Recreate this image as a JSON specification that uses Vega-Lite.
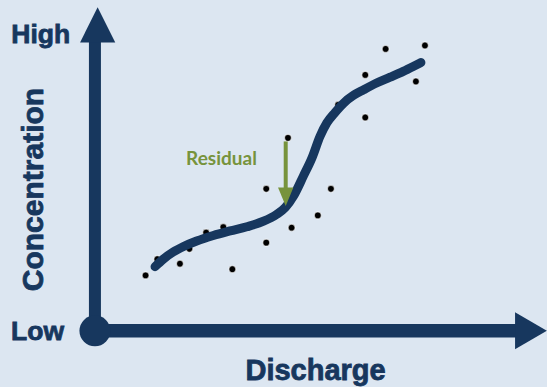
{
  "$schema": "https://vega.github.io/schema/vega-lite/v6.json",
  "width": 547,
  "height": 387,
  "autosize": {"type": "fit", "contains": "padding"},
  "padding": 0,
  "background": "#dce6f1",
  "config": {"view": {"stroke": null}},
  "datasets": {
    "fit": [
      {"x": 1.33, "y": 1.98}, {"x": 1.51, "y": 2.21}, {"x": 1.73, "y": 2.43}, {"x": 1.96, "y": 2.6},
      {"x": 2.25, "y": 2.77}, {"x": 2.62, "y": 2.94}, {"x": 2.99, "y": 3.08}, {"x": 3.36, "y": 3.21},
      {"x": 3.73, "y": 3.38}, {"x": 4.02, "y": 3.59}, {"x": 4.21, "y": 3.8}, {"x": 4.39, "y": 4.15},
      {"x": 4.61, "y": 4.77}, {"x": 4.8, "y": 5.33}, {"x": 4.98, "y": 6.0}, {"x": 5.13, "y": 6.41},
      {"x": 5.31, "y": 6.73}, {"x": 5.5, "y": 7.02}, {"x": 5.72, "y": 7.26}, {"x": 5.94, "y": 7.43},
      {"x": 6.23, "y": 7.64}, {"x": 6.53, "y": 7.82}, {"x": 6.82, "y": 8.0}, {"x": 7.04, "y": 8.15},
      {"x": 7.21, "y": 8.27}
    ],
    "obs": [
      {"x": 1.12, "y": 1.71}, {"x": 1.38, "y": 2.21}, {"x": 1.88, "y": 2.07}, {"x": 2.09, "y": 2.53},
      {"x": 2.46, "y": 3.03}, {"x": 2.84, "y": 3.2}, {"x": 3.04, "y": 1.9}, {"x": 3.79, "y": 2.72},
      {"x": 3.79, "y": 4.38}, {"x": 4.27, "y": 5.95}, {"x": 4.35, "y": 3.18}, {"x": 4.93, "y": 3.56},
      {"x": 5.22, "y": 4.38}, {"x": 5.38, "y": 6.97}, {"x": 5.98, "y": 6.58}, {"x": 5.98, "y": 7.89},
      {"x": 6.43, "y": 8.69}, {"x": 7.1, "y": 7.69}, {"x": 7.3, "y": 8.8}
    ]
  },
  "layer": [
    {
      "data": {"values": [{"x": 0, "y": 0, "x2": 0, "y2": 9.0}]},
      "mark": {"type": "rule", "color": "#17375e", "strokeWidth": 12},
      "encoding": {
        "x": {"field": "x", "type": "quantitative", "scale": {"domain": [-2.1, 10], "nice": false, "zero": false}, "axis": null},
        "y": {"field": "y", "type": "quantitative", "scale": {"domain": [-1.7, 10.2], "nice": false, "zero": false}, "axis": null},
        "x2": {"field": "x2"},
        "y2": {"field": "y2"}
      }
    },
    {
      "data": {"values": [{"x": 0, "y": 0, "x2": 9.35, "y2": 0}]},
      "mark": {"type": "rule", "color": "#17375e", "strokeWidth": 13.5},
      "encoding": {
        "x": {"field": "x", "type": "quantitative", "scale": {"domain": [-2.1, 10], "nice": false, "zero": false}, "axis": null},
        "y": {"field": "y", "type": "quantitative", "scale": {"domain": [-1.7, 10.2], "nice": false, "zero": false}, "axis": null},
        "x2": {"field": "x2"},
        "y2": {"field": "y2"}
      }
    },
    {
      "data": {"values": [{"x": 0, "y": 0}]},
      "mark": {"type": "point", "shape": "circle", "filled": true, "color": "#17375e", "opacity": 1, "size": 961},
      "encoding": {
        "x": {"field": "x", "type": "quantitative", "scale": {"domain": [-2.1, 10], "nice": false, "zero": false}, "axis": null},
        "y": {"field": "y", "type": "quantitative", "scale": {"domain": [-1.7, 10.2], "nice": false, "zero": false}, "axis": null}
      }
    },
    {
      "data": {"values": [{"x": 0.06, "y": 9.43}]},
      "mark": {"type": "point", "shape": "M0,-1L1,1L-1,1Z", "filled": true, "color": "#17375e", "opacity": 1, "size": 1240},
      "encoding": {
        "x": {"field": "x", "type": "quantitative", "scale": {"domain": [-2.1, 10], "nice": false, "zero": false}, "axis": null},
        "y": {"field": "y", "type": "quantitative", "scale": {"domain": [-1.7, 10.2], "nice": false, "zero": false}, "axis": null}
      }
    },
    {
      "data": {"values": [{"x": 9.645, "y": 0.0}]},
      "mark": {"type": "point", "shape": "M-0.86,-1L0.86,0L-0.86,1Z", "filled": true, "color": "#17375e", "opacity": 1, "size": 1369},
      "encoding": {
        "x": {"field": "x", "type": "quantitative", "scale": {"domain": [-2.1, 10], "nice": false, "zero": false}, "axis": null},
        "y": {"field": "y", "type": "quantitative", "scale": {"domain": [-1.7, 10.2], "nice": false, "zero": false}, "axis": null}
      }
    },
    {
      "data": {"name": "obs"},
      "mark": {"type": "point", "shape": "circle", "filled": true, "color": "#000000", "opacity": 1, "size": 48, "stroke": "#ffffff", "strokeWidth": 1.2, "strokeOpacity": 0.6},
      "encoding": {
        "x": {"field": "x", "type": "quantitative", "scale": {"domain": [-2.1, 10], "nice": false, "zero": false}, "axis": null},
        "y": {"field": "y", "type": "quantitative", "scale": {"domain": [-1.7, 10.2], "nice": false, "zero": false}, "axis": null}
      }
    },
    {
      "data": {"name": "fit"},
      "mark": {"type": "line", "color": "#17375e", "strokeWidth": 9, "strokeCap": "round", "interpolate": "monotone"},
      "encoding": {
        "x": {"field": "x", "type": "quantitative", "scale": {"domain": [-2.1, 10], "nice": false, "zero": false}, "axis": null},
        "y": {"field": "y", "type": "quantitative", "scale": {"domain": [-1.7, 10.2], "nice": false, "zero": false}, "axis": null},
        "order": {"field": "x", "type": "quantitative"}
      }
    },
    {
      "data": {"values": [{"x": 4.22, "y": 5.84, "x2": 4.22, "y2": 4.35}]},
      "mark": {"type": "rule", "color": "#77933c", "strokeWidth": 4},
      "encoding": {
        "x": {"field": "x", "type": "quantitative", "scale": {"domain": [-2.1, 10], "nice": false, "zero": false}, "axis": null},
        "y": {"field": "y", "type": "quantitative", "scale": {"domain": [-1.7, 10.2], "nice": false, "zero": false}, "axis": null},
        "x2": {"field": "x2"},
        "y2": {"field": "y2"}
      }
    },
    {
      "data": {"values": [{"x": 4.22, "y": 4.134}]},
      "mark": {"type": "point", "shape": "M-0.83,-1L0.83,-1L0,1Z", "filled": true, "color": "#77933c", "opacity": 1, "size": 342},
      "encoding": {
        "x": {"field": "x", "type": "quantitative", "scale": {"domain": [-2.1, 10], "nice": false, "zero": false}, "axis": null},
        "y": {"field": "y", "type": "quantitative", "scale": {"domain": [-1.7, 10.2], "nice": false, "zero": false}, "axis": null}
      }
    },
    {
      "data": {"values": [{"x": 2.8, "y": 5.126, "label": "Residual"}]},
      "mark": {"type": "text", "color": "#77933c", "font": "Lato", "fontWeight": "bold", "fontSize": 19, "align": "center", "baseline": "alphabetic"},
      "encoding": {
        "x": {"field": "x", "type": "quantitative", "scale": {"domain": [-2.1, 10], "nice": false, "zero": false}, "axis": null},
        "y": {"field": "y", "type": "quantitative", "scale": {"domain": [-1.7, 10.2], "nice": false, "zero": false}, "axis": null},
        "text": {"field": "label"}
      }
    },
    {
      "data": {"values": [{"x": -1.2, "y": 8.868, "label": "High"}, {"x": -1.27, "y": -0.277, "label": "Low"}]},
      "mark": {"type": "text", "color": "#17375e", "stroke": "#17375e", "strokeWidth": 0.8, "font": "Liberation Sans", "fontWeight": "bold", "fontSize": 26.5, "align": "center", "baseline": "alphabetic"},
      "encoding": {
        "x": {"field": "x", "type": "quantitative", "scale": {"domain": [-2.1, 10], "nice": false, "zero": false}, "axis": null},
        "y": {"field": "y", "type": "quantitative", "scale": {"domain": [-1.7, 10.2], "nice": false, "zero": false}, "axis": null},
        "text": {"field": "label"}
      }
    },
    {
      "data": {"values": [{"x": 4.88, "y": -1.516, "label": "Discharge"}]},
      "mark": {"type": "text", "color": "#17375e", "stroke": "#17375e", "strokeWidth": 0.8, "font": "Liberation Sans", "fontWeight": "bold", "fontSize": 29, "align": "center", "baseline": "alphabetic"},
      "encoding": {
        "x": {"field": "x", "type": "quantitative", "scale": {"domain": [-2.1, 10], "nice": false, "zero": false}, "axis": null},
        "y": {"field": "y", "type": "quantitative", "scale": {"domain": [-1.7, 10.2], "nice": false, "zero": false}, "axis": null},
        "text": {"field": "label"}
      }
    },
    {
      "data": {"values": [{"x": -1.148, "y": 4.357, "label": "Concentration"}]},
      "mark": {"type": "text", "color": "#17375e", "stroke": "#17375e", "strokeWidth": 0.8, "font": "Liberation Sans", "fontWeight": "bold", "fontSize": 30, "angle": 270, "align": "center", "baseline": "alphabetic"},
      "encoding": {
        "x": {"field": "x", "type": "quantitative", "scale": {"domain": [-2.1, 10], "nice": false, "zero": false}, "axis": null},
        "y": {"field": "y", "type": "quantitative", "scale": {"domain": [-1.7, 10.2], "nice": false, "zero": false}, "axis": null},
        "text": {"field": "label"}
      }
    }
  ]
}
